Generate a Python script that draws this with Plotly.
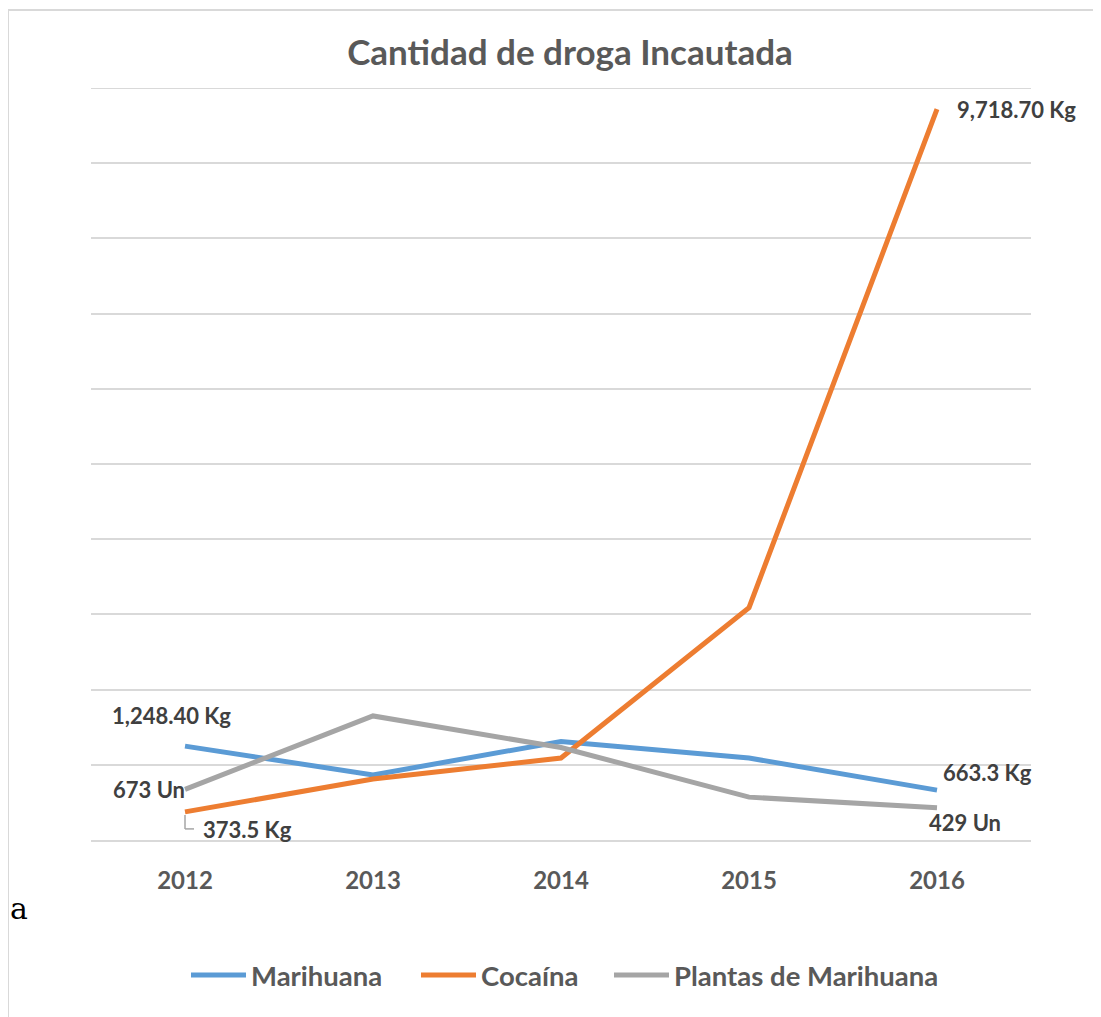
import plotly.graph_objects as go

years = ["2012", "2013", "2014", "2015", "2016"]
marihuana = [1248.4, 865, 1310, 1090, 663.3]
cocaina = [373.5, 810, 1090, 3090, 9718.7]
plantas = [673, 1650, 1230, 570, 429]

series_names = ["Marihuana", "Cocaína", "Plantas de Marihuana"]
colors = ["#5B9BD5", "#ED7D31", "#A5A5A5"]

FONT = "Lato, Open Sans, sans-serif"
TXT = "#595959"

# page has an 8px body margin, so the figure is 8px smaller than the window
W, H = 1093, 1009
L, T, B = 83, 80, 177
R = W - (1031 - 8)
PW, PH = 940, 752

legend_ids = ["legend", "legend2", "legend3"]
legend_left = [178, 408, 601]  # figure px where each legend entry starts

fig = go.Figure()
for name, vals, col, lid in zip(series_names, [marihuana, cocaina, plantas], colors, legend_ids):
    fig.add_trace(go.Scatter(x=years, y=vals, name="<b>" + name + "</b>", mode="lines",
                             legend=lid, line=dict(color=col, width=5)))

lab = dict(size=22, color="#404040", family=FONT)
def ann(i, y, text, xs, ys, xanchor="center"):
    # i is the category serial number on the x axis
    fig.add_annotation(x=i, y=y, text="<b>" + text + "</b>", showarrow=False,
                       xshift=xs, yshift=ys, xanchor=xanchor, font=lab)

ann(0, marihuana[0], "1,248.40 Kg", -14, 31)
ann(0, plantas[0], "673 Un", 2, 0, xanchor="right")
ann(0, cocaina[0], "373.5 Kg", 16, -18, xanchor="left")
ann(4, marihuana[4], "663.3 Kg", 4, 18, xanchor="left")
ann(4, plantas[4], "429 Un", -10, -15, xanchor="left")
ann(4, cocaina[4], "9,718.70 Kg", 18, 0, xanchor="left")

# leader line for 373.5 Kg label
lead = dict(color="#A6A6A6", width=1.5)
fig.add_shape(type="line", xref="x", yref="y", xsizemode="pixel", ysizemode="pixel",
              xanchor=0, yanchor=cocaina[0], x0=0, x1=0, y0=-3, y1=-17, line=lead)
fig.add_shape(type="line", xref="x", yref="y", xsizemode="pixel", ysizemode="pixel",
              xanchor=0, yanchor=cocaina[0], x0=0, x1=9, y0=-17, y1=-17, line=lead)

# top gridline (10000) sits on the plot edge
fig.add_shape(type="line", xref="paper", yref="y", x0=0, x1=1, y0=10000, y1=10000,
              line=dict(color="#D9D9D9", width=2), layer="below")

# stray letter at left edge of screenshot
fig.add_annotation(x=-L / PW, y=-(908 - 840) / PH, xref="paper", yref="paper", text="a",
                   showarrow=False, font=dict(size=30, color="#000", family="DejaVu Serif"),
                   xanchor="left", yanchor="middle")

leg_common = dict(orientation="h", xanchor="left", y=-(975 - 840) / PH, yanchor="middle",
                  font=dict(size=27.5, color=TXT, family=FONT), itemwidth=55,
                  bgcolor="rgba(0,0,0,0)")

fig.update_layout(
    width=W, height=H,
    paper_bgcolor="white", plot_bgcolor="white",
    margin=dict(l=L, r=R, t=T, b=B, autoexpand=False),
    title=dict(text="<b>Cantidad de droga Incautada</b>", x=(570 - 8) / W, xanchor="center",
               y=1 - (53 - 8) / H, yanchor="middle",
               font=dict(size=35, color=TXT, family=FONT)),
    xaxis=dict(type="category", range=[-0.5, 4.5], showgrid=False, zeroline=False,
               showline=True, linecolor="#D9D9D9", linewidth=2, ticks="",
               tickfont=dict(size=24, color=TXT, family=FONT), ticklabelstandoff=18,
               tickprefix="<b>", ticksuffix="</b>"),
    yaxis=dict(range=[0, 10000], dtick=1000, showgrid=True, gridcolor="#D9D9D9",
               gridwidth=2, showticklabels=False, zeroline=False, showline=False),
    showlegend=True,
)
for lid, lx in zip(legend_ids, legend_left):
    fig.update_layout({lid: dict(leg_common, x=(lx - L) / PW)})

# outer frame of the screenshot
fig.add_shape(type="line", xref="paper", yref="paper", x0=-L / PW, x1=-L / PW,
              y0=-B / PH, y1=(840 - 10) / PH, line=dict(color="#D9D9D9", width=2))
fig.add_shape(type="line", xref="paper", yref="paper", x0=-L / PW, x1=(W - L) / PW,
              y0=(840 - 10) / PH, y1=(840 - 10) / PH, line=dict(color="#D9D9D9", width=2))

fig.write_html("out.html")
